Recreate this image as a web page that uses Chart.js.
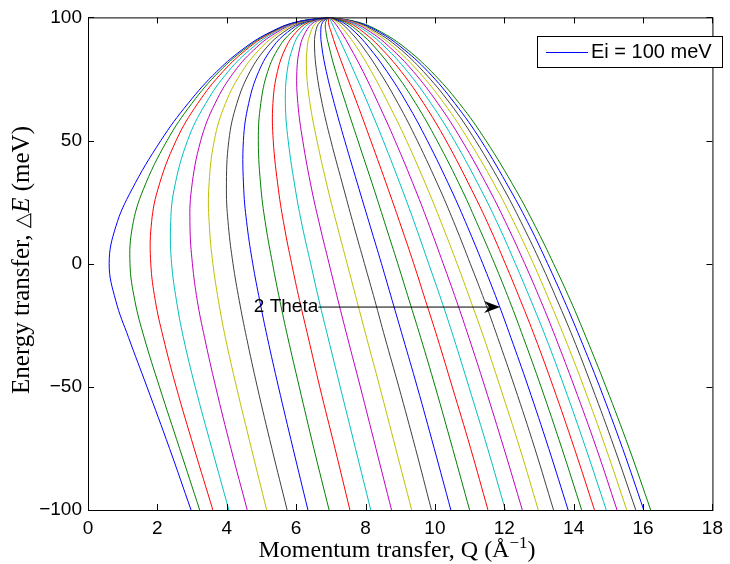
<!DOCTYPE html>
<html>
<head>
<meta charset="utf-8">
<script src="https://cdn.jsdelivr.net/npm/chart.js@4.4.1/dist/chart.umd.min.js"></script>
<style>
  html, body { margin: 0; padding: 0; background: #fff; }
  #wrap { width: 730px; height: 564px; }
</style>
</head>
<body>
<div id="wrap"><canvas id="kin" width="730" height="564"></canvas></div>
<script>
/* Kinematic range for Ei = 100 meV : one curve per scattering angle 2θ */

const eiLabel = 'Ei = 100 meV';
const twoTheta = [5, 10, 15, 20, 25, 30, 35, 40, 45, 50, 55, 60, 65, 70, 75,
                  80, 85, 90, 95, 100, 105, 110, 115, 120, 125, 130, 135, 140, 145, 150];

// energy transfer (meV) shared by every curve
const dE = [-100, -75, -50, -30, -15, 0, 15, 30, 50, 65, 78, 88, 94, 98, 100];

// momentum transfer Q (1/Å), same order as dE
const q5   = [2.97, 2.35, 1.70, 1.17, 0.80, 0.61, 0.80, 1.26, 2.10, 2.88, 3.71, 4.55, 5.25, 5.97, 6.95];
const q10  = [3.22, 2.64, 2.06, 1.62, 1.35, 1.21, 1.28, 1.59, 2.28, 2.99, 3.78, 4.60, 5.28, 5.98, 6.95];
const q15  = [3.60, 3.06, 2.54, 2.17, 1.94, 1.81, 1.82, 2.01, 2.54, 3.16, 3.89, 4.66, 5.32, 6.00, 6.95];
const q20  = [4.06, 3.57, 3.09, 2.75, 2.55, 2.41, 2.38, 2.48, 2.87, 3.39, 4.04, 4.76, 5.38, 6.03, 6.95];
const q25  = [4.59, 4.12, 3.68, 3.36, 3.15, 3.01, 2.94, 2.98, 3.25, 3.66, 4.22, 4.87, 5.45, 6.07, 6.95];
const q30  = [5.15, 4.71, 4.28, 3.96, 3.76, 3.60, 3.50, 3.48, 3.64, 3.96, 4.44, 5.01, 5.54, 6.12, 6.95];
const q35  = [5.74, 5.30, 4.88, 4.57, 4.36, 4.18, 4.05, 3.99, 4.06, 4.29, 4.67, 5.16, 5.64, 6.17, 6.95];
const q40  = [6.34, 5.91, 5.49, 5.17, 4.95, 4.75, 4.59, 4.49, 4.48, 4.63, 4.92, 5.33, 5.75, 6.23, 6.95];
const q45  = [6.95, 6.51, 6.09, 5.76, 5.53, 5.32, 5.13, 4.99, 4.91, 4.98, 5.18, 5.51, 5.87, 6.29, 6.95];
const q50  = [7.55, 7.12, 6.68, 6.35, 6.10, 5.87, 5.66, 5.49, 5.34, 5.33, 5.46, 5.71, 6.00, 6.36, 6.95];
const q55  = [8.15, 7.71, 7.27, 6.92, 6.66, 6.42, 6.18, 5.98, 5.77, 5.69, 5.74, 5.91, 6.13, 6.43, 6.95];
const q60  = [8.75, 8.30, 7.85, 7.48, 7.21, 6.95, 6.69, 6.45, 6.19, 6.05, 6.02, 6.11, 6.27, 6.51, 6.95];
const q65  = [9.33, 8.87, 8.41, 8.03, 7.75, 7.47, 7.19, 6.92, 6.60, 6.40, 6.30, 6.32, 6.42, 6.59, 6.95];
const q70  = [9.90, 9.44, 8.96, 8.56, 8.27, 7.97, 7.67, 7.38, 7.00, 6.75, 6.59, 6.53, 6.56, 6.68, 6.95];
const q75  = [10.46, 9.98, 9.49, 9.08, 8.77, 8.46, 8.14, 7.82, 7.40, 7.10, 6.87, 6.74, 6.71, 6.76, 6.95];
const q80  = [11.00, 10.51, 10.01, 9.59, 9.26, 8.93, 8.59, 8.25, 7.78, 7.43, 7.14, 6.95, 6.86, 6.85, 6.95];
const q85  = [11.53, 11.03, 10.50, 10.07, 9.73, 9.39, 9.03, 8.66, 8.15, 7.76, 7.41, 7.15, 7.01, 6.93, 6.95];
const q90  = [12.03, 11.52, 10.98, 10.54, 10.19, 9.82, 9.45, 9.06, 8.51, 8.07, 7.67, 7.35, 7.15, 7.02, 6.95];
const q95  = [12.52, 11.99, 11.44, 10.98, 10.62, 10.24, 9.85, 9.44, 8.85, 8.37, 7.93, 7.55, 7.30, 7.10, 6.95];
const q100 = [12.98, 12.45, 11.88, 11.41, 11.03, 10.64, 10.23, 9.80, 9.18, 8.66, 8.17, 7.74, 7.43, 7.18, 6.95];
const q105 = [13.42, 12.88, 12.30, 11.81, 11.43, 11.02, 10.60, 10.15, 9.49, 8.94, 8.40, 7.92, 7.57, 7.26, 6.95];
const q110 = [13.84, 13.28, 12.69, 12.19, 11.80, 11.38, 10.94, 10.47, 9.78, 9.20, 8.62, 8.09, 7.70, 7.34, 6.95];
const q115 = [14.23, 13.66, 13.06, 12.55, 12.15, 11.72, 11.26, 10.78, 10.06, 9.45, 8.83, 8.26, 7.82, 7.42, 6.95];
const q120 = [14.60, 14.02, 13.41, 12.89, 12.47, 12.03, 11.57, 11.06, 10.32, 9.68, 9.03, 8.41, 7.94, 7.49, 6.95];
const q125 = [14.94, 14.35, 13.73, 13.20, 12.77, 12.32, 11.85, 11.33, 10.56, 9.89, 9.21, 8.56, 8.05, 7.55, 6.95];
const q130 = [15.25, 14.66, 14.02, 13.48, 13.05, 12.59, 12.10, 11.57, 10.78, 10.09, 9.38, 8.69, 8.15, 7.62, 6.95];
const q135 = [15.53, 14.93, 14.29, 13.74, 13.30, 12.84, 12.34, 11.80, 10.98, 10.27, 9.53, 8.81, 8.24, 7.67, 6.95];
const q140 = [15.79, 15.18, 14.53, 13.98, 13.53, 13.06, 12.55, 12.00, 11.17, 10.44, 9.67, 8.93, 8.32, 7.73, 6.95];
const q145 = [16.02, 15.41, 14.75, 14.18, 13.73, 13.25, 12.74, 12.17, 11.33, 10.58, 9.80, 9.02, 8.40, 7.77, 6.95];
const q150 = [16.22, 15.60, 14.93, 14.36, 13.91, 13.42, 12.90, 12.33, 11.47, 10.71, 9.90, 9.11, 8.46, 7.81, 6.95];

const qCurves = [q5, q10, q15, q20, q25, q30, q35, q40, q45, q50, q55, q60, q65, q70, q75,
                 q80, q85, q90, q95, q100, q105, q110, q115, q120, q125, q130, q135, q140, q145, q150];

const xTickValues = [0, 2, 4, 6, 8, 10, 12, 14, 16, 18];
const yTickValues = [-100, -50, 0, 50, 100];

// annotation "2 Theta" with its arrow (data coordinates)
const arrowNote = { text: '2 Theta', textAt: [4.78, -17.6], from: [6.64, -17.6], to: [11.88, -17.6] };

// matlab's old default line colour order  b g r c m y k
const COLORS = ['#0000ff', '#008000', '#ff0000', '#00bfbf', '#bf00bf', '#bfbf00', '#404040'];
const SANS = '"Liberation Sans", Arial, Helvetica, sans-serif';
const SERIF = '"Liberation Serif", "Times New Roman", serif';

const datasets = qCurves.map((q, i) => ({
  label: i === 0 ? eiLabel : '2θ = ' + twoTheta[i] + '°',
  data: q.map((v, j) => ({ x: v, y: dE[j] })),
  borderColor: COLORS[i % COLORS.length],
  borderWidth: 1,
  pointRadius: 0,
  fill: false,
  tension: 0.4
}));

// draws a string made of several font runs, centred on cx
function drawRuns(ctx, runs, cx, baseline) {
  let total = 0;
  runs.forEach(r => { ctx.font = r.font; r.w = ctx.measureText(r.text).width; total += r.w; });
  let x = cx - total / 2;
  runs.forEach(r => {
    ctx.font = r.font;
    ctx.fillText(r.text, x, baseline - (r.rise || 0));
    x += r.w;
  });
}

const matlabAxes = {
  id: 'matlabAxes',
  afterDatasetsDraw(chart) {
    const { ctx, chartArea: a, scales: { x, y } } = chart;
    ctx.save();
    ctx.strokeStyle = '#000';
    ctx.lineWidth = 1;

    // box + inward ticks on all four sides
    ctx.strokeRect(a.left + 0.5, a.top + 0.5, a.right - a.left, a.bottom - a.top);
    ctx.beginPath();
    x.ticks.forEach(t => {
      const px = Math.round(x.getPixelForValue(t.value)) + 0.5;
      ctx.moveTo(px, a.bottom); ctx.lineTo(px, a.bottom - 6);
      ctx.moveTo(px, a.top); ctx.lineTo(px, a.top + 6);
    });
    y.ticks.forEach(t => {
      const py = Math.round(y.getPixelForValue(t.value)) + 0.5;
      ctx.moveTo(a.left, py); ctx.lineTo(a.left + 6, py);
      ctx.moveTo(a.right, py); ctx.lineTo(a.right - 6, py);
    });
    ctx.stroke();

    // 2 Theta arrow
    const x0 = x.getPixelForValue(arrowNote.from[0]);
    const x1 = x.getPixelForValue(arrowNote.to[0]);
    const ya = y.getPixelForValue(arrowNote.from[1]);
    ctx.beginPath();
    ctx.moveTo(x0, ya); ctx.lineTo(x1 - 8, ya);
    ctx.stroke();
    ctx.fillStyle = '#000';
    ctx.beginPath();
    ctx.moveTo(x1, ya);
    ctx.lineTo(x1 - 16, ya - 6);
    ctx.lineTo(x1 - 11, ya);
    ctx.lineTo(x1 - 16, ya + 6);
    ctx.closePath();
    ctx.fill();
    ctx.font = '19px ' + SANS;
    ctx.textBaseline = 'middle';
    ctx.textAlign = 'left';
    ctx.fillText(arrowNote.text, x.getPixelForValue(arrowNote.textAt[0]), y.getPixelForValue(arrowNote.textAt[1]));

    // legend (first curve only, like the matlab figure)
    const ds0 = chart.data.datasets[0];
    ctx.fillStyle = '#fff';
    ctx.fillRect(537, 36, 186, 31);
    ctx.strokeRect(537.5, 36.5, 185, 31);
    ctx.strokeStyle = ds0.borderColor;
    ctx.beginPath();
    ctx.moveTo(546, 52.5); ctx.lineTo(588, 52.5);
    ctx.stroke();
    ctx.fillStyle = '#000';
    ctx.font = '20px ' + SANS;
    ctx.fillText(ds0.label, 591, 52);

    // axis titles
    ctx.textBaseline = 'alphabetic';
    drawRuns(ctx, [
      { text: 'Momentum transfer, Q (Å', font: '24px ' + SERIF },
      { text: '−1', font: '17px ' + SERIF, rise: 9 },
      { text: ')', font: '24px ' + SERIF }
    ], 397, 557);

    ctx.translate(29, 260);
    ctx.rotate(-Math.PI / 2);
    drawRuns(ctx, [
      { text: 'Energy transfer, ', font: '25px ' + SERIF },
      { text: '△', font: '20px "DejaVu Sans", sans-serif' },
      { text: 'E', font: 'italic 25px ' + SERIF },
      { text: ' (meV)', font: '25px ' + SERIF }
    ], 0, 0);
    ctx.restore();
  }
};

new Chart(document.getElementById('kin'), {
  type: 'line',
  data: { datasets },
  plugins: [matlabAxes],
  options: {
    responsive: false,
    animation: false,
    devicePixelRatio: 1,
    indexAxis: 'y',
    layout: { padding: { left: 0, right: 13, top: 14, bottom: 0 } },
    plugins: { legend: { display: false }, tooltip: { enabled: false }, title: { display: false } },
    scales: {
      x: {
        type: 'linear', position: 'bottom', min: 0, max: 18,
        afterBuildTicks: s => { s.ticks = xTickValues.map(v => ({ value: v })); },
        afterFit: s => { s.height = 54; },
        grid: { display: false, drawTicks: false },
        border: { display: false },
        ticks: { color: '#000', padding: 7, maxRotation: 0, autoSkip: false, font: { family: SANS, size: 19 } }
      },
      y: {
        type: 'linear', position: 'left', min: -100, max: 100,
        afterBuildTicks: s => { s.ticks = yTickValues.map(v => ({ value: v })); },
        afterFit: s => { s.width = 88; },
        grid: { display: false, drawTicks: false },
        border: { display: false },
        ticks: {
          color: '#000', padding: 6, autoSkip: false, font: { family: SANS, size: 19 },
          callback: v => String(v).replace('-', '−')
        }
      }
    }
  }
});
</script>
</body>
</html>
